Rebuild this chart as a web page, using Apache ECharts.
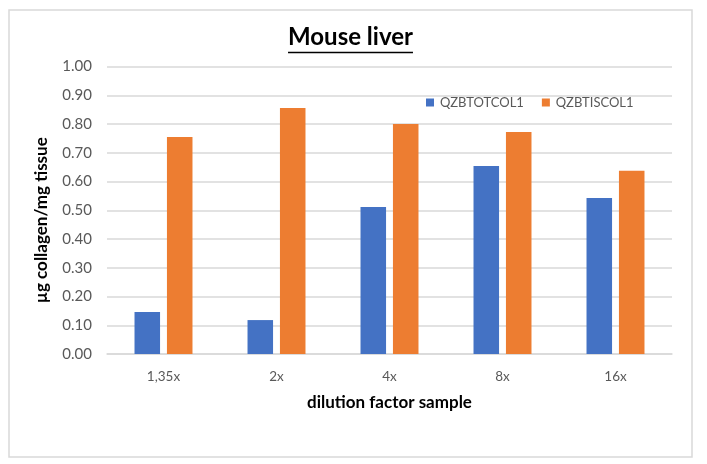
<!DOCTYPE html>
<html><head><meta charset="utf-8">
<script src="https://cdn.jsdelivr.net/npm/echarts@6/dist/echarts.min.js"></script>
<style>html,body{margin:0;padding:0;background:#fff}#c{width:707px;height:464px}</style>
</head><body><div id="c"></div>
<script>
const categories = ['1,35x', '2x', '4x', '8x', '16x'];
const seriesNames = ['QZBTOTCOL1', 'QZBTISCOL1'];
const totValues = [0.146, 0.118, 0.511, 0.654, 0.543];
const tisValues = [0.755, 0.856, 0.800, 0.772, 0.637];
const yTicks = {min: 0, max: 1, interval: 0.1};
const titleText = 'Mouse liver';

const font = 'Lato, "Noto Sans", sans-serif';
const titleFontSize = 24;
const ctx = document.createElement('canvas').getContext('2d');
ctx.font = 'bold ' + titleFontSize + 'px ' + font;
const titleW = ctx.measureText(titleText).width;
const titleCx = 350.5;
const titleLeft = titleCx - titleW / 2;

const chart = echarts.init(document.getElementById('c'));
chart.setOption({
  backgroundColor: '#fff',
  animation: false,
  title: {
    text: titleText, left: titleLeft, top: 25, padding: 0,
    textStyle: {fontFamily: font, fontWeight: 'bold', fontSize: titleFontSize, color: '#000'}
  },
  legend: {
    data: seriesNames, left: 421, top: 91, itemWidth: 8, itemHeight: 8, itemGap: 18,
    icon: 'rect',
    textStyle: {fontFamily: font, fontSize: 13, color: '#595959', padding: [0, 0, 0, 1]}
  },
  grid: {left: 107, right: 35, top: 66.5, bottom: 110},
  xAxis: {
    type: 'category', data: categories,
    name: 'dilution factor sample', nameLocation: 'middle', nameGap: 40,
    nameTextStyle: {fontFamily: font, fontWeight: 'bold', fontSize: 17, color: '#000'},
    axisLine: {lineStyle: {color: '#d9d9d9', width: 1.5}},
    axisTick: {show: false},
    axisLabel: {fontFamily: font, fontSize: 13.5, color: '#595959', margin: 16}
  },
  yAxis: {
    type: 'value', min: yTicks.min, max: yTicks.max, interval: yTicks.interval,
    name: 'µg collagen/mg tissue', nameLocation: 'middle', nameGap: 57,
    nameTextStyle: {fontFamily: font, fontWeight: 'bold', fontSize: 17, color: '#000',
      padding: [0, 20, 0, 0]},
    axisLine: {show: false}, axisTick: {show: false},
    splitLine: {lineStyle: {color: '#d9d9d9', width: 1.5}},
    axisLabel: {fontFamily: font, fontSize: 15, color: '#595959', margin: 15,
      formatter: v => v.toFixed(2)}
  },
  series: [
    {name: seriesNames[0], type: 'bar', data: totValues, barWidth: '22.6%', barGap: '27%',
      itemStyle: {color: '#4472C4'}},
    {name: seriesNames[1], type: 'bar', data: tisValues, barWidth: '22.6%', barGap: '27%',
      itemStyle: {color: '#ED7D31'}}
  ],
  graphic: [
    {type: 'rect', shape: {x: 9, y: 10, width: 683, height: 447}, silent: true,
      style: {fill: null, stroke: '#d9d9d9', lineWidth: 1.5}},
    {type: 'line', shape: {x1: titleLeft, y1: 52.5, x2: titleLeft + titleW, y2: 52.5}, silent: true,
      style: {stroke: '#000', lineWidth: 1.5}}
  ]
});
</script></body></html>
